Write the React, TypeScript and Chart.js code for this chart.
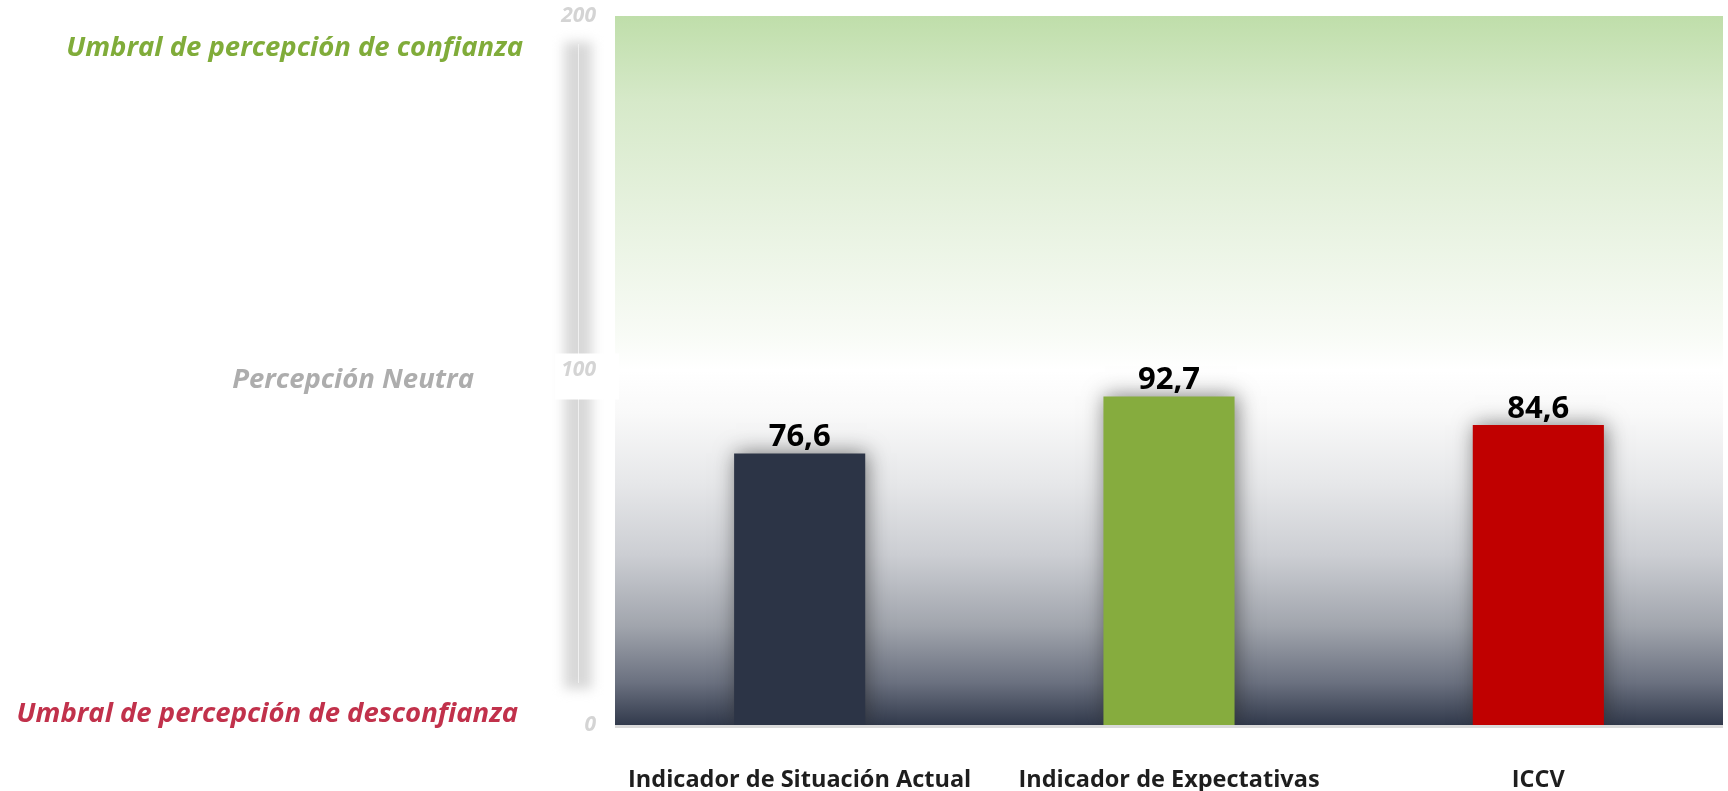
import React, { useEffect, useRef } from "react";
import { Chart, registerables } from "chart.js";

Chart.register(...registerables);

const categories = ["Indicador de Situación Actual", "Indicador de Expectativas", "ICCV"];
const values = [76.6, 92.7, 84.6];
const barColors = ["#2c3446", "#86ac3e", "#c00000"];
const yTickValues = [0, 100, 200];
const sideLabelTexts = [
  "Umbral de percepción de confianza",
  "Percepción Neutra",
  "Umbral de percepción de desconfianza",
];
const sideLabelColors = ["#80ac3a", "#adadad", "#c1314b"];

const FONT = "'Open Sans', 'DejaVu Sans', sans-serif";

const decorPlugin = {
  id: "decor",
  beforeDraw(chart: any) {
    const { ctx, chartArea } = chart;
    const { left, right, top, bottom } = chartArea;
    const y = chart.scales.y;
    ctx.save();
    // background gradient
    const g = ctx.createLinearGradient(0, top, 0, bottom);
    g.addColorStop(0, "#bfdeaa");
    g.addColorStop(0.12, "#d6e9c9");
    g.addColorStop(0.3, "#e9f3e2");
    g.addColorStop(0.45, "#f8fbf6");
    g.addColorStop(0.5, "#ffffff");
    g.addColorStop(0.56, "#f9f9f9");
    g.addColorStop(0.66, "#e6e7e9");
    g.addColorStop(0.76, "#ccced3");
    g.addColorStop(0.86, "#a1a5ad");
    g.addColorStop(0.94, "#6b7180");
    g.addColorStop(1, "#323a4c");
    ctx.fillStyle = g;
    ctx.fillRect(left, top, right - left, bottom - top);

    // bottom axis line
    ctx.fillStyle = "#dadada";
    ctx.fillRect(left, bottom, right - left, 3);

    // decorative vertical axis band
    const ax = left - 37;
    const yTop = y.getPixelForValue(200) + 26;
    const yBot = y.getPixelForValue(0) - 36;
    ctx.save();
    ctx.filter = "blur(6px)";
    ctx.fillStyle = "#d8d8d8";
    ctx.fillRect(ax - 14, yTop, 28, yBot - yTop);
    ctx.restore();
    ctx.strokeStyle = "#f0f0f0";
    ctx.lineWidth = 1;
    ctx.beginPath();
    ctx.moveTo(ax + 0.5, yTop + 2);
    ctx.lineTo(ax + 0.5, yBot - 6);
    ctx.stroke();

    // white box around neutral tick
    const ym = y.getPixelForValue(100);
    ctx.fillStyle = "#ffffff";
    ctx.fillRect(ax - 23, ym - 17, 64, 46);

    // side labels
    ctx.textAlign = "right";
    ctx.textBaseline = "middle";
    ctx.font = `italic bold 27.5px ${FONT}`;
    ctx.fillStyle = sideLabelColors[0];
    ctx.fillText(sideLabelTexts[0], left - 92, y.getPixelForValue(200) + 32);
    ctx.fillStyle = sideLabelColors[1];
    ctx.fillText(sideLabelTexts[1], left - 141, y.getPixelForValue(100) + 10);
    ctx.fillStyle = sideLabelColors[2];
    ctx.fillText(sideLabelTexts[2], left - 97, y.getPixelForValue(0) - 11);
    ctx.restore();
  },
  beforeDatasetsDraw(chart: any) {
    const { ctx } = chart;
    ctx.save();
    ctx.shadowColor = "rgba(40,40,40,0.6)";
    ctx.shadowBlur = 20;
    ctx.shadowOffsetX = 2;
  },
  afterDatasetsDraw(chart: any) {
    const { ctx } = chart;
    ctx.restore();
    ctx.save();
    const meta = chart.getDatasetMeta(0);
    ctx.font = `bold 31px ${FONT}`;
    ctx.fillStyle = "#000000";
    ctx.textAlign = "center";
    ctx.textBaseline = "alphabetic";
    meta.data.forEach((bar: any, i: number) => {
      const txt = values[i].toFixed(1).replace(".", ",");
      ctx.fillText(txt, bar.x, bar.y - 7);
    });
    ctx.restore();
  },
};

export default function App() {
  const ref = useRef<HTMLCanvasElement | null>(null);
  useEffect(() => {
    document.body.style.margin = "0";
    if (!ref.current) return;
    const chart = new Chart(ref.current, {
      type: "bar",
      data: {
        labels: categories,
        datasets: [
          {
            data: values,
            backgroundColor: barColors,
            borderWidth: 0,
            barPercentage: 0.355,
            categoryPercentage: 1,
          },
        ],
      },
      options: {
        animation: false,
        responsive: true,
        maintainAspectRatio: false,
        layout: { padding: { top: 16, right: 5, left: 0, bottom: 0 } },
        plugins: { legend: { display: false }, tooltip: { enabled: false } },
        scales: {
          x: {
            grid: { display: false },
            border: { display: false },
            ticks: {
              color: "#1e1e1e",
              font: { family: FONT, size: 23.5, weight: "bold" },
              padding: 33,
              maxRotation: 0,
            },
            afterFit: (s: any) => {
              s.height = 66;
              s.paddingLeft = 0;
              s.paddingRight = 0;
            },
          },
          y: {
            min: 0,
            max: 200,
            grid: { display: false, drawTicks: false },
            border: { display: false },
            afterBuildTicks: (s: any) => {
              s.ticks = yTickValues.map((v) => ({ value: v }));
            },
            ticks: {
              color: "#d4d4d4",
              font: { family: FONT, size: 21, weight: "bold", style: "italic" },
              padding: 19,
              callback: (v: any) => String(v),
            },
            afterFit: (s: any) => {
              s.width = 615;
              s.paddingTop = 0;
              s.paddingBottom = 0;
            },
          },
        },
      },
      plugins: [decorPlugin],
    });
    return () => chart.destroy();
  }, []);
  return (
    <div style={{ width: 1728, height: 791, position: "relative" }}>
      <canvas ref={ref} />
    </div>
  );
}
